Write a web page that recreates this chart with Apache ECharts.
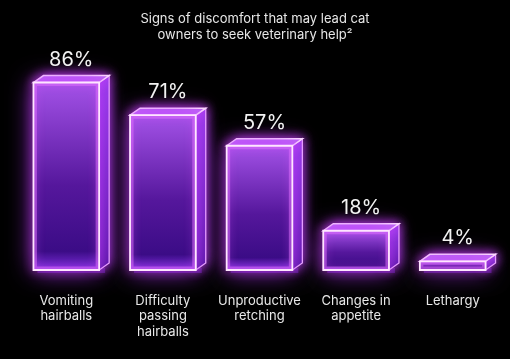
<!DOCTYPE html>
<html>
<head>
<meta charset="utf-8">
<script src="https://cdn.jsdelivr.net/npm/echarts@6/dist/echarts.min.js"></script>
<style>
html,body{margin:0;padding:0;background:#000;}
#chart{width:510px;height:359px;}
</style>
</head>
<body>
<div id="chart"></div>
<script>
// data
var categories=['Vomiting\nhairballs','Difficulty\npassing\nhairballs','Unproductive\nretching','Changes in\nappetite','Lethargy'];
var percents=[86,71,57,18,4];
var titleText='Signs of discomfort that may lead cat\nowners to seek veterinary help\u00b2';

var depthX=10,depthY=-7;//3d depth of box

function renderBox(params,api){
	var cat=api.value(0);
	var val=api.value(1);
	var top=api.coord([cat,val]);
	var base=api.coord([cat,0]);
	var w=api.size([1,0])[0]*0.68;
	var l=top[0]-w/2, r=top[0]+w/2;
	var t=top[1], b=base[1];
	var edge={stroke:'#ffe6ff',lineWidth:1.8,shadowBlur:10,shadowColor:'#e04dff'};
	return {
		type:'group',
		children:[
			//floor glow
			{type:'rect',shape:{x:l+4,y:b-2,width:w+depthX-8,height:5},
				style:{fill:'rgba(140,40,255,0.35)',shadowBlur:20,shadowColor:'rgba(170,60,255,1)'}},
			//side
			{type:'polygon',shape:{points:[[r,t],[r+depthX,t+depthY],[r+depthX,b+depthY],[r,b]]},
				style:{fill:new echarts.graphic.LinearGradient(0,0,0,1,[{offset:0,color:'#8e3ee6'},{offset:1,color:'#3a0c8a'}]),
					stroke:'#f0b8ff',lineWidth:1.3,shadowBlur:12,shadowColor:'#c040ff'}},
			//top
			{type:'polygon',shape:{points:[[l,t],[l+depthX,t+depthY],[r+depthX,t+depthY],[r,t]]},
				style:{fill:'#b870f2',stroke:'#ffe0ff',lineWidth:1.5,shadowBlur:12,shadowColor:'#d040ff'}},
			//front
			{type:'rect',shape:{x:l,y:t,width:w,height:b-t},
				style:{fill:new echarts.graphic.LinearGradient(0,0,0,1,[
					{offset:0,color:'#a452e8'},{offset:0.55,color:'#55179c'},{offset:0.9,color:'#3b0c86'},{offset:1,color:'#8030de'}]),
					shadowBlur:24,shadowColor:'rgba(180,50,255,0.9)'}},
			{type:'rect',shape:{x:l+1.5,y:t+1.5,width:w-3,height:b-t-3},style:{fill:null,stroke:'rgba(225,120,255,0.5)',lineWidth:4}},
			{type:'rect',shape:{x:l,y:t,width:w,height:b-t},style:Object.assign({fill:null},edge)},
			//value label
			{type:'text',x:top[0]+depthX/2,y:t+depthY-6,
				style:{text:val+'%',fill:'#f2f2f2',font:'20px Inter',align:'center',verticalAlign:'bottom'}}
		]
	};
}

var chart=echarts.init(document.getElementById('chart'));
chart.setOption({
	backgroundColor:'#000',
	title:{
		text:titleText,left:'center',top:6,
		textStyle:{color:'#e6e6e6',fontFamily:'Inter',fontSize:13,fontWeight:'normal',lineHeight:16}
	},
	grid:{left:18,right:9,top:52,bottom:89},
	xAxis:{
		type:'category',data:categories,
		axisLine:{show:false},axisTick:{show:false},
		axisLabel:{color:'#e8e8e8',fontFamily:'Inter',fontSize:13,lineHeight:15.5,margin:23,interval:0}
	},
	yAxis:{type:'value',min:0,max:100,show:false,splitLine:{show:false}},
	series:[{
		type:'custom',
		renderItem:renderBox,
		data:percents.map(function(v,i){return [i,v];}),
		clip:false
	}]
});
</script>
</body>
</html>
